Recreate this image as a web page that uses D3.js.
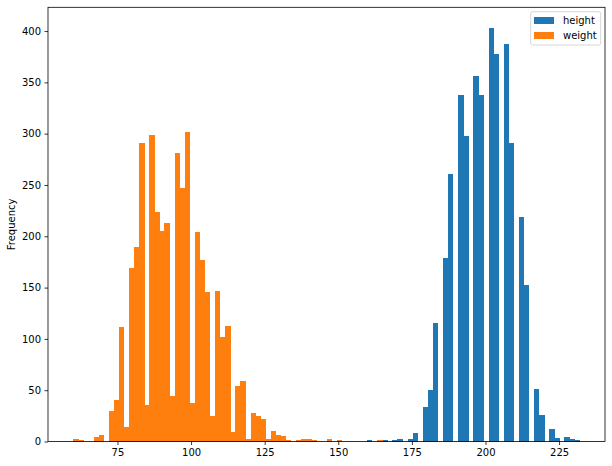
<!DOCTYPE html>
<html>
<head>
<meta charset="utf-8">
<script src="https://cdn.jsdelivr.net/npm/d3@7"></script>
<style>
  body { margin: 0; background: #fff; }
  text { font-family: "DejaVu Sans", sans-serif; }
</style>
</head>
<body>
<div id="chart"></div>
<script>
// histogram bins (shared by both series)
const binStart = 60
const binWidth = 1.72

const seriesNames = ['height', 'weight']

// counts per bin, 100 bins
const heightCounts = [
    0, 0, 0, 0, 0, 0, 0, 0, 0, 0,
    0, 0, 0, 0, 0, 0, 0, 0, 0, 0,
    0, 0, 0, 0, 0, 0, 0, 0, 0, 0,
    0, 0, 0, 0, 0, 0, 0, 0, 0, 0,
    0, 0, 0, 0, 0, 0, 0, 0, 0, 0,
    0, 0, 0, 0, 0, 0, 0, 0, 1, 0,
    0, 1, 0, 1, 2, 0, 2, 8, 0, 34,
    50, 115, 0, 179, 261, 0, 338, 298, 0, 356,
    338, 0, 403, 378, 0, 387, 291, 0, 219, 153,
    0, 51, 26, 0, 12, 3, 0, 4, 2, 1
]

const weightCounts = [
    2, 1, 0, 0, 4, 6, 0, 30, 40, 112,
    14, 169, 190, 291, 36, 299, 224, 205, 213, 44,
    281, 247, 302, 38, 204, 177, 146, 25, 147, 102,
    113, 9, 54, 59, 2, 28, 25, 22, 2, 10,
    6, 5, 1, 0, 1, 2, 2, 1, 0, 0,
    2, 0, 1, 0, 0, 0, 0, 0, 0, 0,
    1, 0, 0, 0, 0, 0, 0, 0, 0, 0,
    0, 0, 0, 0, 0, 0, 0, 0, 0, 0,
    0, 0, 0, 0, 0, 0, 0, 0, 0, 0,
    0, 0, 0, 0, 0, 0, 0, 0, 0, 0
]

const xTicks = [75, 100, 125, 150, 175, 200, 225]
const yTicks = [0, 50, 100, 150, 200, 250, 300, 350, 400]

// dimensions
const dim = {
    width: 612,
    height: 466,
    left: 48,
    right: 605,
    top: 7.3,
    bottom: 441.5
}

const svg = d3.select('#chart')
    .append('svg')
        .attr('width', dim.width)
        .attr('height', dim.height)

// scales
const lo = binStart
const hi = binStart + binWidth * heightCounts.length
const pad = (hi - lo) * 0.05
const xScale = d3.scaleLinear()
    .domain([lo - pad, hi + pad])
    .range([dim.left, dim.right])

const maxCount = d3.max([...heightCounts, ...weightCounts])
const yScale = d3.scaleLinear()
    .domain([0, maxCount * 1.05])
    .range([dim.bottom, dim.top])

const fillScale = d3.scaleOrdinal()
    .domain(seriesNames)
    .range(['#1f77b4', '#ff7f0e'])

const series = [
    {key: 'height', counts: heightCounts},
    {key: 'weight', counts: weightCounts}
]

// bars
svg.append('g')
    .attr('shape-rendering', 'crispEdges')
    .selectAll('g')
    .data(series)
    .join('g')
        .attr('fill', d => fillScale(d.key))
        .selectAll('rect')
        .data(d => d.counts.map((c, i) => ({x0: binStart + i * binWidth, x1: binStart + (i + 1) * binWidth, c})).filter(b => b.c > 0))
        .join('rect')
            .attr('x', d => xScale(d.x0))
            .attr('width', d => xScale(d.x1) - xScale(d.x0) + 0.3)
            .attr('y', d => yScale(d.c))
            .attr('height', d => yScale(0) - yScale(d.c))

// axes
const xAxis = d3.axisBottom(xScale)
    .tickValues(xTicks)
    .tickSize(3.5)
    .tickPadding(3.5)
    .tickSizeOuter(0)

svg.append('g')
    .attr('transform', `translate(0, ${dim.bottom})`)
    .call(xAxis)
    .call(g => g.select('.domain').remove())
    .call(g => g.selectAll('text').attr('font-size', 10).attr('font-family', 'DejaVu Sans').attr('fill', '#000'))
    .call(g => g.selectAll('line').attr('stroke', '#000').attr('stroke-width', 0.8))

const yAxis = d3.axisLeft(yScale)
    .tickValues(yTicks)
    .tickSize(3.5)
    .tickPadding(3.5)
    .tickSizeOuter(0)

svg.append('g')
    .attr('transform', `translate(${dim.left}, 0)`)
    .call(yAxis)
    .call(g => g.select('.domain').remove())
    .call(g => g.selectAll('text').attr('font-size', 10).attr('font-family', 'DejaVu Sans').attr('fill', '#000'))
    .call(g => g.selectAll('line').attr('stroke', '#000').attr('stroke-width', 0.8))

// frame
svg.append('rect')
    .attr('x', dim.left)
    .attr('y', dim.top)
    .attr('width', dim.right - dim.left)
    .attr('height', dim.bottom - dim.top)
    .attr('fill', 'none')
    .attr('stroke', '#000')
    .attr('stroke-width', 0.8)

// y label
svg.append('text')
    .attr('transform', `translate(15, ${(dim.top + dim.bottom) / 2}) rotate(-90)`)
    .attr('text-anchor', 'middle')
    .attr('font-size', 10)
    .text('Frequency')

// legend
const legend = svg.append('g')

legend.append('rect')
    .attr('x', 530.7)
    .attr('y', 11.7)
    .attr('width', 70)
    .attr('height', 33.3)
    .attr('rx', 2)
    .attr('fill', '#fff')
    .attr('fill-opacity', 0.8)
    .attr('stroke', '#ccc')
    .attr('stroke-width', 0.8)

const items = legend.selectAll('g.item')
    .data(seriesNames)
    .join('g')
        .attr('class', 'item')
        .attr('transform', (d, i) => `translate(534, ${20.5 + i * 15})`)

items.append('rect')
    .attr('y', -3.5)
    .attr('width', 20)
    .attr('height', 7)
    .attr('fill', d => fillScale(d))

items.append('text')
    .attr('x', 29)
    .attr('dy', '0.35em')
    .attr('font-size', 10)
    .text(d => d)
</script>
</body>
</html>
